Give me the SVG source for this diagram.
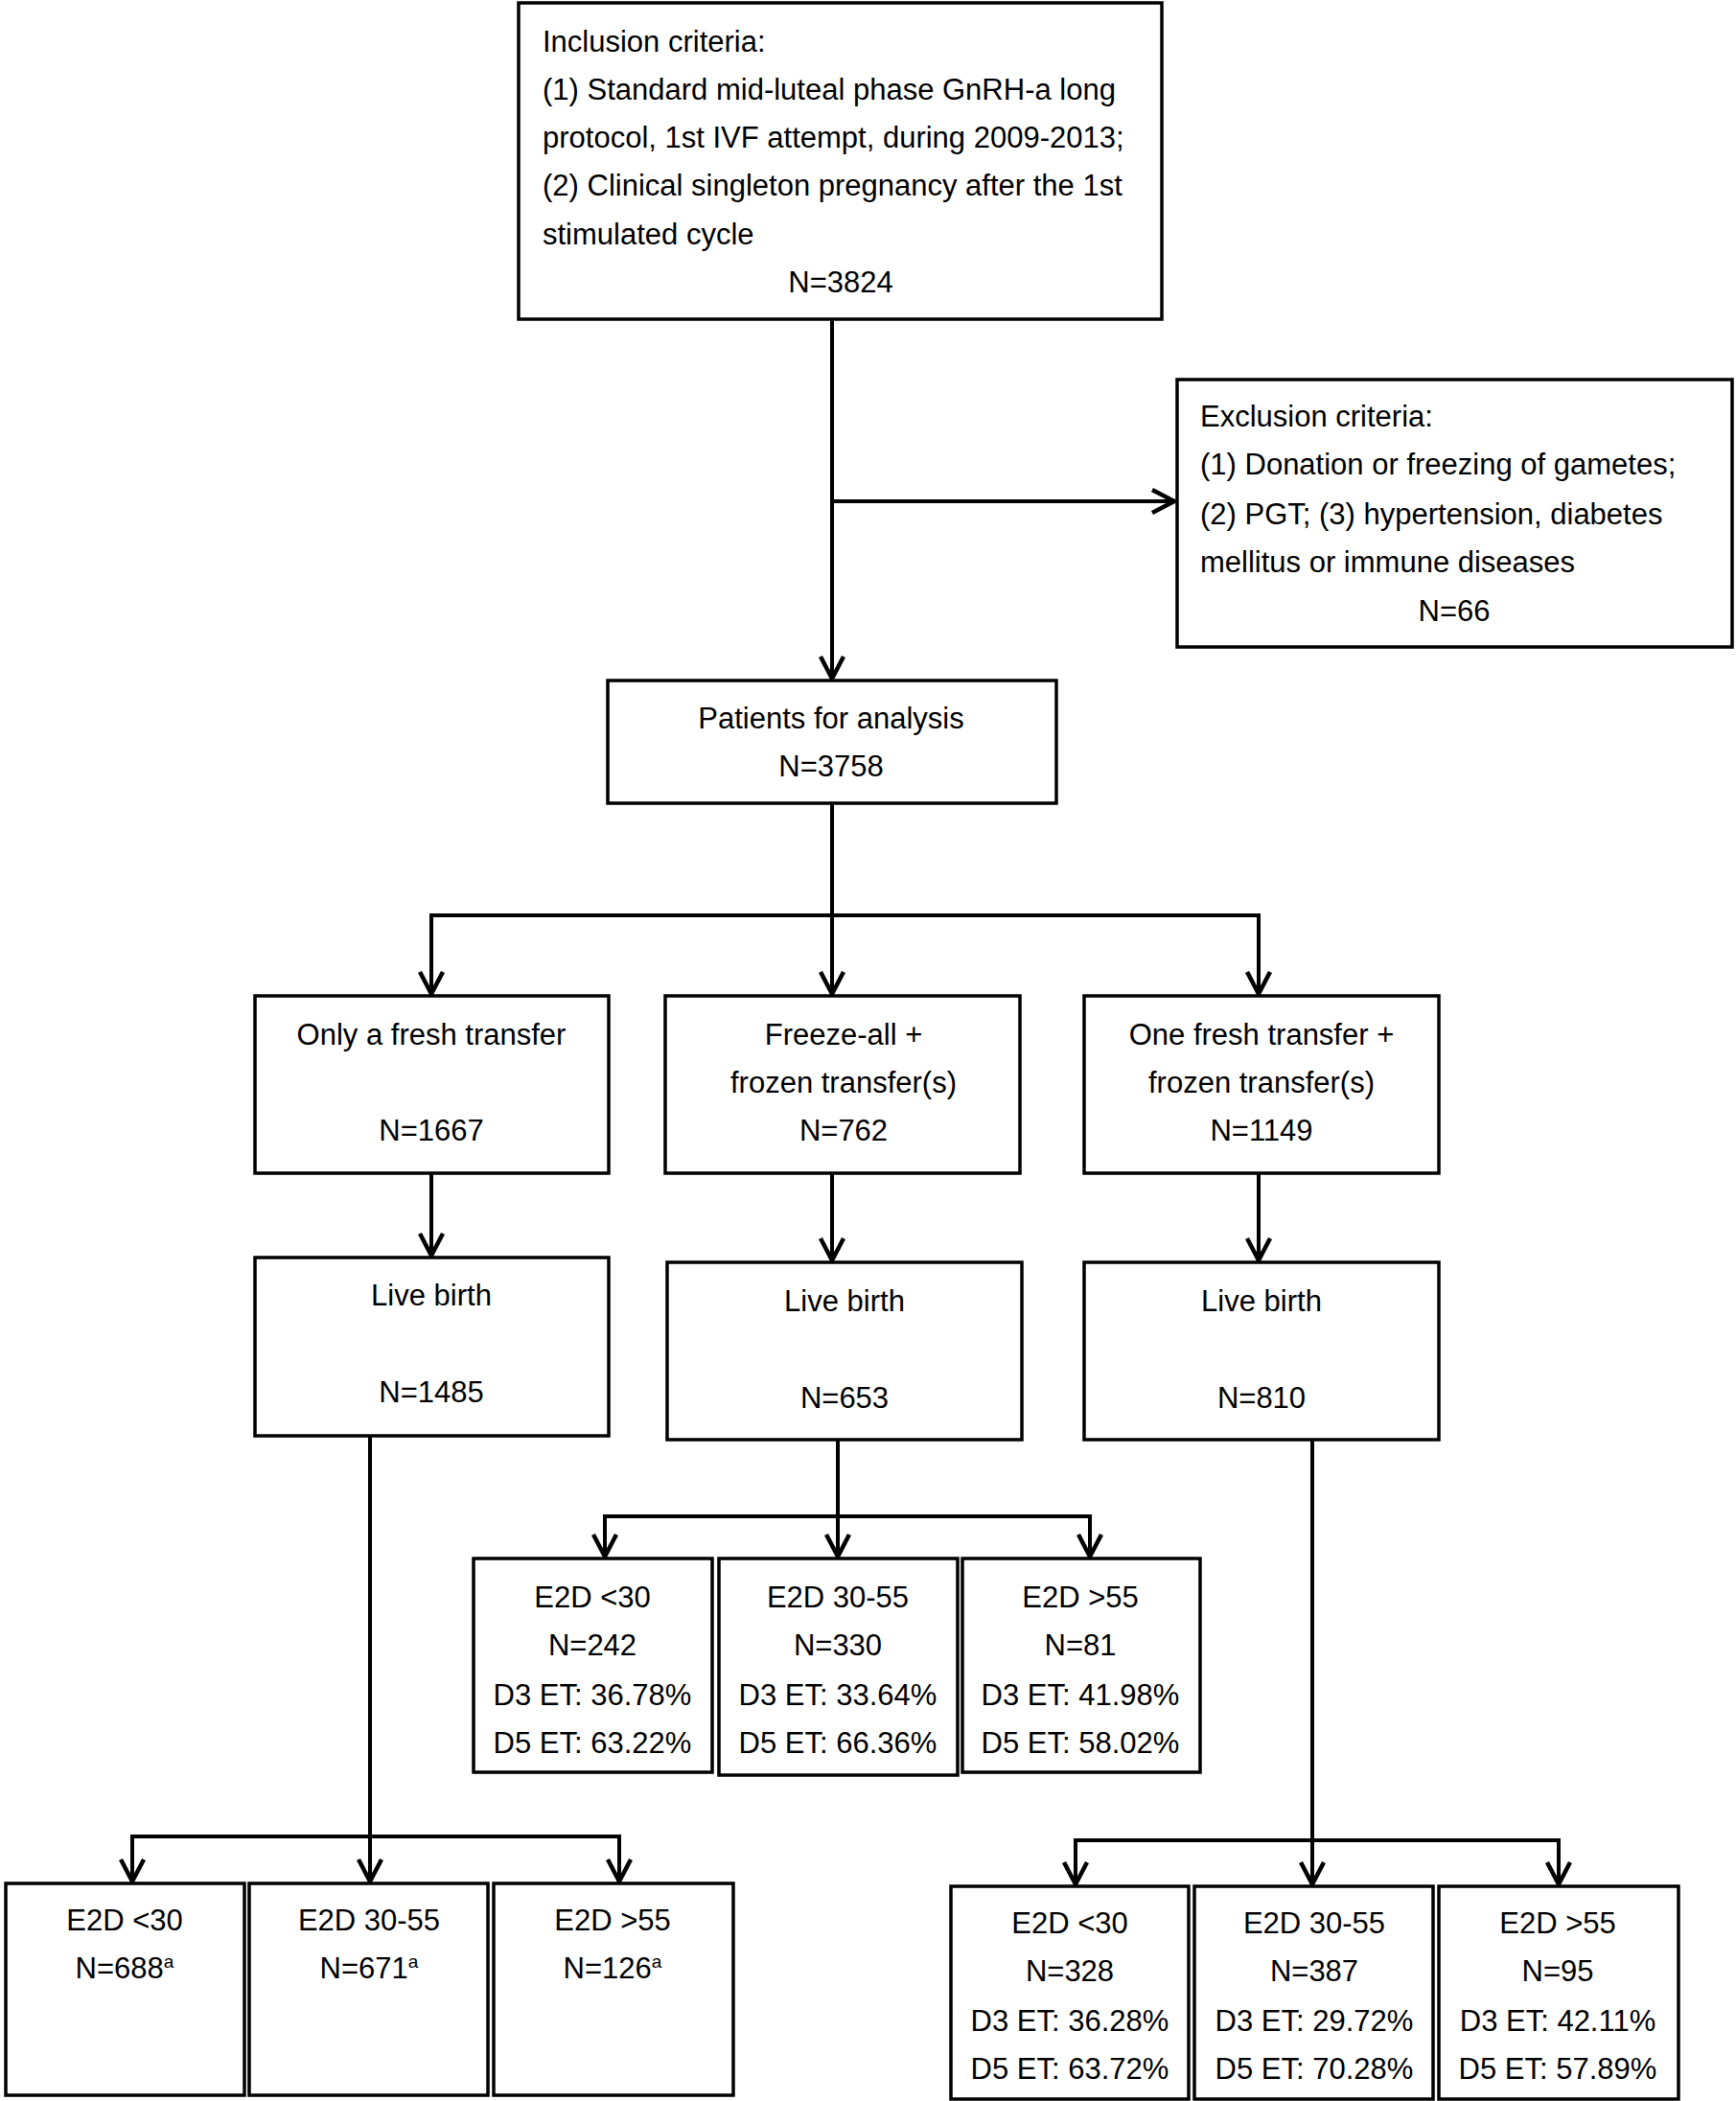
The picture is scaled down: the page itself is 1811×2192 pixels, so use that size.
<svg xmlns="http://www.w3.org/2000/svg" width="1811" height="2192" viewBox="0 0 1811 2192">
<style>
.box{fill:#fff;stroke:#000;stroke-width:3.5}
text{font-family:"Liberation Sans",Arial,sans-serif;font-size:31px;fill:#000}
.c{text-anchor:middle}
.ln{fill:none;stroke:#000;stroke-width:4}
.sup{font-size:19px}
</style>
<defs>
<marker id="ah" markerUnits="userSpaceOnUse" markerWidth="40" markerHeight="40" viewBox="-30 -20 40 40" refX="0" refY="0" orient="auto">
<path d="M-23,-12 L0,0 L-23,12" fill="none" stroke="#000" stroke-width="4.5"/>
</marker>
</defs>
<rect width="1811" height="2192" fill="#fff"/>
<g id="connectors">
<line class="ln" x1="868" y1="333" x2="868" y2="708" marker-end="url(#ah)"/>
<line class="ln" x1="868" y1="523" x2="1225" y2="523" marker-end="url(#ah)"/>
<line class="ln" x1="868" y1="838" x2="868" y2="955"/>
<line class="ln" x1="448" y1="955" x2="1315" y2="955"/>
<line class="ln" x1="450" y1="955" x2="450" y2="1037" marker-end="url(#ah)"/>
<line class="ln" x1="868" y1="955" x2="868" y2="1037" marker-end="url(#ah)"/>
<line class="ln" x1="1313" y1="955" x2="1313" y2="1037" marker-end="url(#ah)"/>
<line class="ln" x1="450" y1="1224" x2="450" y2="1310" marker-end="url(#ah)"/>
<line class="ln" x1="868" y1="1224" x2="868" y2="1315" marker-end="url(#ah)"/>
<line class="ln" x1="1313" y1="1224" x2="1313" y2="1315" marker-end="url(#ah)"/>
<line class="ln" x1="386" y1="1498" x2="386" y2="1963" marker-end="url(#ah)"/>
<line class="ln" x1="136" y1="1916" x2="648" y2="1916"/>
<line class="ln" x1="138" y1="1916" x2="138" y2="1963" marker-end="url(#ah)"/>
<line class="ln" x1="646" y1="1916" x2="646" y2="1963" marker-end="url(#ah)"/>
<line class="ln" x1="874" y1="1502" x2="874" y2="1624" marker-end="url(#ah)"/>
<line class="ln" x1="629" y1="1582" x2="1139" y2="1582"/>
<line class="ln" x1="631" y1="1582" x2="631" y2="1624" marker-end="url(#ah)"/>
<line class="ln" x1="1137" y1="1582" x2="1137" y2="1624" marker-end="url(#ah)"/>
<line class="ln" x1="1369" y1="1502" x2="1369" y2="1966" marker-end="url(#ah)"/>
<line class="ln" x1="1120" y1="1920" x2="1628" y2="1920"/>
<line class="ln" x1="1122" y1="1920" x2="1122" y2="1966" marker-end="url(#ah)"/>
<line class="ln" x1="1626" y1="1920" x2="1626" y2="1966" marker-end="url(#ah)"/>
</g>
<g id="inclusion">
<rect class="box" x="541" y="3" width="671" height="330"/>
<text x="566" y="54">Inclusion criteria:</text>
<text x="566" y="104">(1) Standard mid-luteal phase GnRH-a long</text>
<text x="566" y="154">protocol, 1st IVF attempt, during 2009-2013;</text>
<text x="566" y="204">(2) Clinical singleton pregnancy after the 1st</text>
<text x="566" y="255">stimulated cycle</text>
<text class="c" x="877" y="305">N=3824</text>
</g>
<g id="exclusion">
<rect class="box" x="1228" y="396" width="579" height="279"/>
<text x="1252" y="445">Exclusion criteria:</text>
<text x="1252" y="495">(1) Donation or freezing of gametes;</text>
<text x="1252" y="547">(2) PGT; (3) hypertension, diabetes</text>
<text x="1252" y="597">mellitus or immune diseases</text>
<text class="c" x="1517" y="648">N=66</text>
</g>
<g id="patients">
<rect class="box" x="634" y="710" width="468" height="128"/>
<text class="c" x="867" y="760">Patients for analysis</text>
<text class="c" x="867" y="810">N=3758</text>
</g>
<g id="fresh">
<rect class="box" x="266" y="1039" width="369" height="185"/>
<text class="c" x="450" y="1090">Only a fresh transfer</text>
<text class="c" x="450" y="1190">N=1667</text>
</g>
<g id="freezeall">
<rect class="box" x="694" y="1039" width="370" height="185"/>
<text class="c" x="880" y="1090">Freeze-all +</text>
<text class="c" x="880" y="1140">frozen transfer(s)</text>
<text class="c" x="880" y="1190">N=762</text>
</g>
<g id="onefresh">
<rect class="box" x="1131" y="1039" width="370" height="185"/>
<text class="c" x="1316" y="1090">One fresh transfer +</text>
<text class="c" x="1316" y="1140">frozen transfer(s)</text>
<text class="c" x="1316" y="1190">N=1149</text>
</g>
<g id="live-fresh">
<rect class="box" x="266" y="1312" width="369" height="186"/>
<text class="c" x="450" y="1362">Live birth</text>
<text class="c" x="450" y="1463">N=1485</text>
</g>
<g id="live-freezeall">
<rect class="box" x="696" y="1317" width="370" height="185"/>
<text class="c" x="881" y="1368">Live birth</text>
<text class="c" x="881" y="1469">N=653</text>
</g>
<g id="live-onefresh">
<rect class="box" x="1131" y="1317" width="370" height="185"/>
<text class="c" x="1316" y="1368">Live birth</text>
<text class="c" x="1316" y="1469">N=810</text>
</g>
<g id="fa-lt30">
<rect class="box" x="494" y="1626" width="249" height="223"/>
<text class="c" x="618" y="1677">E2D &lt;30</text>
<text class="c" x="618" y="1727">N=242</text>
<text class="c" x="618" y="1779">D3 ET: 36.78%</text>
<text class="c" x="618" y="1829">D5 ET: 63.22%</text>
</g>
<g id="fa-30-55">
<rect class="box" x="750" y="1626" width="249" height="226"/>
<text class="c" x="874" y="1677">E2D 30-55</text>
<text class="c" x="874" y="1727">N=330</text>
<text class="c" x="874" y="1779">D3 ET: 33.64%</text>
<text class="c" x="874" y="1829">D5 ET: 66.36%</text>
</g>
<g id="fa-gt55">
<rect class="box" x="1004" y="1626" width="248" height="223"/>
<text class="c" x="1127" y="1677">E2D &gt;55</text>
<text class="c" x="1127" y="1727">N=81</text>
<text class="c" x="1127" y="1779">D3 ET: 41.98%</text>
<text class="c" x="1127" y="1829">D5 ET: 58.02%</text>
</g>
<g id="fr-lt30">
<rect class="box" x="6" y="1965" width="249" height="221"/>
<text class="c" x="130" y="2014">E2D &lt;30</text>
<text class="c" x="130" y="2064">N=688<tspan class="sup" dy="-11">a</tspan></text>
</g>
<g id="fr-30-55">
<rect class="box" x="260" y="1965" width="249" height="221"/>
<text class="c" x="385" y="2014">E2D 30-55</text>
<text class="c" x="385" y="2064">N=671<tspan class="sup" dy="-11">a</tspan></text>
</g>
<g id="fr-gt55">
<rect class="box" x="515" y="1965" width="250" height="221"/>
<text class="c" x="639" y="2014">E2D &gt;55</text>
<text class="c" x="639" y="2064">N=126<tspan class="sup" dy="-11">a</tspan></text>
</g>
<g id="of-lt30">
<rect class="box" x="992" y="1968" width="248" height="222"/>
<text class="c" x="1116" y="2017">E2D &lt;30</text>
<text class="c" x="1116" y="2067">N=328</text>
<text class="c" x="1116" y="2119">D3 ET: 36.28%</text>
<text class="c" x="1116" y="2169">D5 ET: 63.72%</text>
</g>
<g id="of-30-55">
<rect class="box" x="1246" y="1968" width="249" height="222"/>
<text class="c" x="1371" y="2017">E2D 30-55</text>
<text class="c" x="1371" y="2067">N=387</text>
<text class="c" x="1371" y="2119">D3 ET: 29.72%</text>
<text class="c" x="1371" y="2169">D5 ET: 70.28%</text>
</g>
<g id="of-gt55">
<rect class="box" x="1501" y="1968" width="250" height="222"/>
<text class="c" x="1625" y="2017">E2D &gt;55</text>
<text class="c" x="1625" y="2067">N=95</text>
<text class="c" x="1625" y="2119">D3 ET: 42.11%</text>
<text class="c" x="1625" y="2169">D5 ET: 57.89%</text>
</g>
</svg>
